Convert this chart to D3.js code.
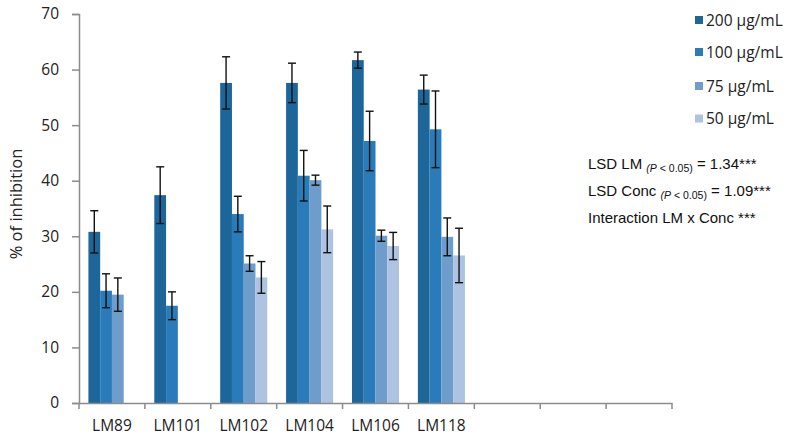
<!DOCTYPE html>
<html>
<head>
<meta charset="utf-8">
<script src="https://cdn.jsdelivr.net/npm/d3@7"></script>
<style>
  html, body { margin: 0; padding: 0; background: #fff; }
  svg { display: block; }
</style>
</head>
<body>
<svg id="chart" width="799" height="441"></svg>
<script>
// ---- data ----
const categories = ["LM89", "LM101", "LM102", "LM104", "LM106", "LM118", "", " ", "  "];
const seriesNames = ["200 µg/mL", "100 µg/mL", "75 µg/mL", "50 µg/mL"];
const seriesColors = ["#1c6699", "#2a7bb9", "#6e9dcc", "#adc3e1"];
const values200 = [30.8, 37.4, 57.6, 57.6, 61.7, 56.4];
const errors200 = [3.8, 5.1, 4.7, 3.55, 1.45, 2.6];
const values100 = [20.2, 17.5, 34.0, 40.9, 47.15, 49.25];
const errors100 = [3.05, 2.5, 3.2, 4.55, 5.35, 6.9];
const values75 = [19.5, null, 25.1, 40.1, 30.1, 29.9];
const errors75 = [3.0, null, 1.4, 0.9, 1.0, 3.4];
const values50 = [null, null, 22.6, 31.25, 28.25, 26.55];
const errors50 = [null, null, 2.85, 4.2, 2.45, 4.9];
const yTicks = [0, 10, 20, 30, 40, 50, 60, 70];
const yTitle = "% of inhibition";

const seriesValues = [values200, values100, values75, values50];
const seriesErrors = [errors200, errors100, errors75, errors50];

// ---- layout ----
const svg = d3.select("#chart");
const x0 = 79, x1 = 672, yTop = 14, yBottom = 403;
const axisColor = "#8c8c8c";
const FONT = "'Open Sans', sans-serif";

const x = d3.scaleBand().domain(categories).range([x0, x1]).padding(0);
const y = d3.scaleLinear().domain([0, 70]).range([yBottom, yTop]);
const bw = x.bandwidth() / 5.6;
const xs = d3.scaleBand().domain(d3.range(4)).range([0.8 * bw, 0.8 * bw + 4 * bw]).padding(0);

// bars
const barData = [];
seriesValues.forEach((vals, s) => {
  vals.forEach((v, i) => {
    if (v != null) barData.push({ s, cat: categories[i], v, e: seriesErrors[s][i] });
  });
});

const g = svg.append("g");
g.selectAll("rect.bar").data(barData).enter().append("rect")
  .attr("class", "bar")
  .attr("x", d => x(d.cat) + xs(d.s))
  .attr("width", xs.bandwidth())
  .attr("y", d => y(d.v))
  .attr("height", d => y(0) - y(d.v))
  .attr("fill", d => seriesColors[d.s]);

// error bars
const eb = g.selectAll("g.err").data(barData).enter().append("g").attr("class", "err")
  .attr("stroke", "#111").attr("stroke-width", 1.4);
const cx = d => x(d.cat) + xs(d.s) + xs.bandwidth() / 2;
eb.append("line").attr("x1", cx).attr("x2", cx).attr("y1", d => y(d.v + d.e)).attr("y2", d => y(d.v - d.e));
eb.append("line").attr("x1", d => cx(d) - 4).attr("x2", d => cx(d) + 4).attr("y1", d => y(d.v + d.e)).attr("y2", d => y(d.v + d.e));
eb.append("line").attr("x1", d => cx(d) - 4).attr("x2", d => cx(d) + 4).attr("y1", d => y(d.v - d.e)).attr("y2", d => y(d.v - d.e));

// y axis
const yAxis = svg.append("g").attr("transform", `translate(${x0},0)`)
  .call(d3.axisLeft(y).tickValues(yTicks).tickSize(7).tickPadding(13).tickFormat(d3.format("d")));
yAxis.select(".domain").attr("stroke", axisColor).attr("stroke-width", 1.5);
yAxis.selectAll(".tick line").attr("stroke", axisColor).attr("stroke-width", 1.5);
yAxis.selectAll(".tick text").attr("fill", "#222").style("font-family", FONT).style("font-size", "15.5px");

// x axis
const xAxis = svg.append("g").attr("transform", `translate(0,${yBottom})`)
  .call(d3.axisBottom(x).tickSize(0).tickPadding(17));
xAxis.select(".domain").attr("stroke", axisColor).attr("stroke-width", 1.5);
xAxis.selectAll(".tick text").attr("fill", "#222").style("font-family", FONT).style("font-size", "15.5px");
// boundary ticks
const bounds = categories.map(c => x(c)).concat([x1]);
svg.append("g").selectAll("line").data(bounds).enter().append("line")
  .attr("x1", d => d).attr("x2", d => d).attr("y1", yBottom).attr("y2", yBottom + 6)
  .attr("stroke", axisColor).attr("stroke-width", 1.5);

// y title
svg.append("text")
  .attr("transform", "translate(21.5,204) rotate(-90)")
  .attr("text-anchor", "middle")
  .attr("fill", "#222")
  .style("font-family", FONT)
  .style("font-size", "16.5px")
  .text(yTitle);

// legend
const legendY = [20, 52, 86, 118.5];
const leg = svg.append("g").selectAll("g").data(seriesNames).enter().append("g")
  .attr("transform", (d, i) => `translate(695,${legendY[i]})`);
leg.append("rect").attr("x", 0).attr("y", -4).attr("width", 8).attr("height", 8)
  .attr("fill", (d, i) => seriesColors[i]);
leg.append("text").attr("x", 11).attr("y", 5.5)
  .attr("fill", "#222")
  .style("font-family", FONT).style("font-size", "15.5px")
  .text(d => d);

// annotations
const ann = svg.append("g").style("font-family", "'Liberation Sans', Arial, sans-serif").attr("fill", "#111");
function lsdLine(yb, label, val) {
  const t = ann.append("text").attr("x", 588).attr("y", yb).style("font-size", "15px");
  t.append("tspan").text(label + " ");
  t.append("tspan").attr("dy", 3).style("font-size", "10.5px").style("font-style", "italic").text("(P");
  t.append("tspan").style("font-size", "10.5px").text(" < 0.05)");
  t.append("tspan").attr("dy", -3).text(" = " + val);
  t.append("tspan").text("***");
}
lsdLine(168.5, "LSD LM", "1.34");
lsdLine(195.5, "LSD Conc", "1.09");
ann.append("text").attr("x", 588).attr("y", 222.5).style("font-size", "15px").text("Interaction LM x Conc ***");
</script>
</body>
</html>
